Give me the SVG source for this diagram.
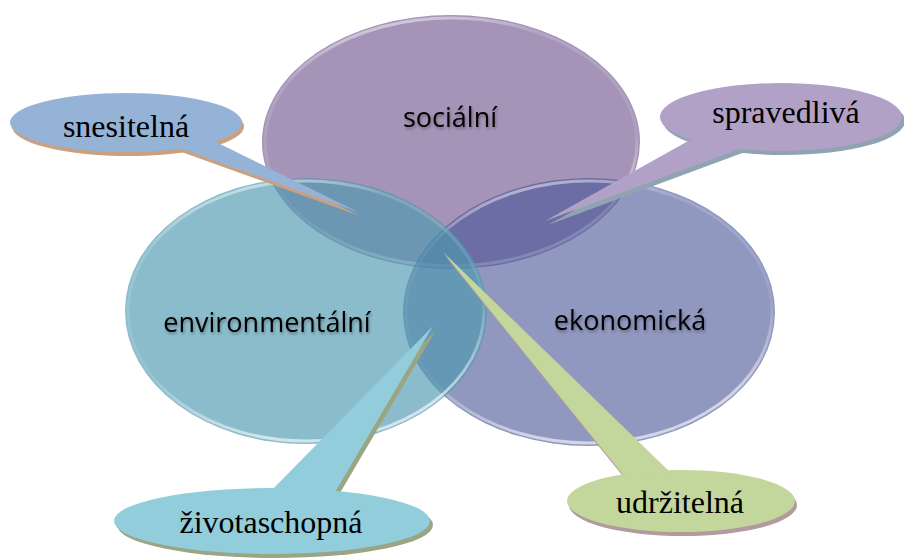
<svg xmlns="http://www.w3.org/2000/svg" xmlns:xlink="http://www.w3.org/1999/xlink" width="904" height="558" viewBox="0 0 904 558">
<style>
.big{font-family:"Open Sans","Noto Sans","Liberation Sans",sans-serif;font-size:27px;fill:#000;text-anchor:middle;}
.call{font-family:"Liberation Serif","Times New Roman",serif;font-size:32px;fill:#000;text-anchor:middle;}
.rim{fill:none;stroke:url(#rim);stroke-width:3;}
</style>
<defs>
<linearGradient id="rim" x1="0" y1="0" x2="0.3" y2="1">
<stop offset="0" stop-color="#fff" stop-opacity="0.75"/>
<stop offset="0.25" stop-color="#fff" stop-opacity="0.15"/>
<stop offset="0.7" stop-color="#fff" stop-opacity="0.1"/>
<stop offset="1" stop-color="#fff" stop-opacity="0.6"/>
</linearGradient>
<filter id="ts" x="-10%" y="-30%" width="120%" height="160%">
<feGaussianBlur in="SourceAlpha" stdDeviation="1.5"/>
<feOffset dx="1" dy="2" result="b"/>
<feComponentTransfer><feFuncA type="linear" slope="0.35"/></feComponentTransfer>
<feMerge><feMergeNode/><feMergeNode in="SourceGraphic"/></feMerge>
</filter>
<g id="c1"><ellipse cx="126" cy="122.5" rx="116" ry="29.5"/><polygon points="174,146 212,140 358,212"/></g>
<g id="c2"><ellipse cx="781" cy="117" rx="121" ry="34"/><polygon points="690,140 742,148 545,221"/></g>
<g id="c3"><ellipse cx="272" cy="521" rx="158" ry="33"/><polygon points="268,494 334,494 433,326"/></g>
<g id="c4"><ellipse cx="681" cy="501" rx="114" ry="31"/><polygon points="624,476 672,474 443,252"/></g>
</defs>
<rect width="904" height="558" fill="#fff"/>

<g id="node-socialni">
<ellipse cx="451" cy="142" rx="189" ry="127" fill="#a594b8"/>
<ellipse cx="451" cy="142" rx="186" ry="124" class="rim"/>
<text x="450" y="127" class="big" filter="url(#ts)">sociální</text>
</g>
<g id="node-ekonomicka">
<ellipse cx="589" cy="312" rx="186" ry="134" fill="#465396" fill-opacity="0.6"/>
<ellipse cx="589" cy="312" rx="183" ry="131" class="rim"/>
<text x="630" y="330" class="big" filter="url(#ts)">ekonomická</text>
</g>
<g id="node-environmentalni">
<ellipse cx="306" cy="311" rx="181" ry="133" fill="#4d98af" fill-opacity="0.65"/>
<ellipse cx="306" cy="311" rx="178" ry="130" class="rim"/>
<text x="267" y="332" class="big" filter="url(#ts)">environmentální</text>
</g>

<g id="connectors">
<use xlink:href="#c1" href="#c1" transform="translate(2,4)" fill="#c9a17f"/>
<use xlink:href="#c1" href="#c1" fill="#95b3d7"/>
<use xlink:href="#c2" href="#c2" transform="translate(3,4)" fill="#8fa3b3"/>
<use xlink:href="#c2" href="#c2" fill="#b2a1c7"/>
<use xlink:href="#c3" href="#c3" transform="translate(3,4)" fill="#9aa583"/>
<use xlink:href="#c3" href="#c3" fill="#92cddc"/>
<use xlink:href="#c4" href="#c4" transform="translate(2,4)" fill="#b39a9e"/>
<use xlink:href="#c4" href="#c4" fill="#c3d69b"/>
</g>

<g id="node-snesitelna"><text x="126" y="137" class="call">snesitelná</text></g>
<g id="node-spravedliva"><text x="786" y="123" class="call">spravedlivá</text></g>
<g id="node-zivotaschopna"><text x="271" y="533" class="call">životaschopná</text></g>
<g id="node-udrzitelna"><text x="680" y="513" class="call">udržitelná</text></g>
</svg>
